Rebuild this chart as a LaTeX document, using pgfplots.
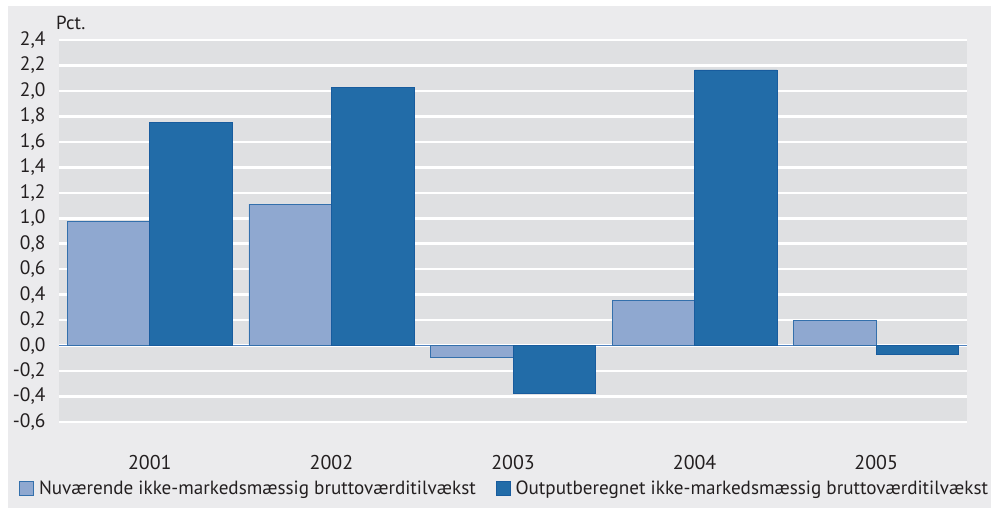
\documentclass[border=0pt]{standalone}
\usepackage{pgfplots}
\pgfplotsset{compat=1.18}
\usepackage{fontspec}
\setmainfont{PT Sans}
\definecolor{outerbg}{RGB}{235,235,237}
\definecolor{plotbg}{RGB}{223,224,226}
\definecolor{lightbar}{RGB}{143,168,208}
\definecolor{lightedge}{RGB}{52,112,172}
\definecolor{darkbar}{RGB}{34,108,168}
\definecolor{darkedge}{RGB}{24,92,158}
\definecolor{zeroline}{RGB}{80,130,190}
\definecolor{txt}{RGB}{35,31,32}
\begin{document}
\begin{tikzpicture}[x=1bp,y=1bp]
\useasboundingbox (0,0) rectangle (991,508);
\fill[white] (0,0) rectangle (991,508);
\fill[outerbg] (8,0) rectangle (991,502);
\node[anchor=base west, font=\fontsize{19}{22}\selectfont, text=txt, inner sep=0] at (56,478) {Pct.};
\begin{axis}[
  at={(59bp,86bp)}, anchor=south west,
  scale only axis, width=908bp, height=382bp,
  xmin=-0.5, xmax=4.5, ymin=-0.6, ymax=2.4,
  ytick={-0.6,-0.4,-0.2,0,0.2,0.4,0.6,0.8,1.0,1.2,1.4,1.6,1.8,2.0,2.2,2.4},
  xtick={0,1,2,3,4},
  xticklabels={2001,2002,2003,2004,2005},
  /pgf/number format/.cd, fixed, fixed zerofill, precision=1, use comma, assume math mode=true,
  /pgfplots/.cd,
  axis background/.style={fill=plotbg},
  axis line style={draw=none},
  major tick length=0pt,
  ymajorgrids,
  major grid style={white, line width=2.5bp},
  extra y ticks={0},
  extra y tick labels={},
  extra y tick style={grid=major, major grid style={zeroline, line width=0.8bp}},
  yticklabel style={font=\fontsize{19.5}{20}\selectfont, text=txt, anchor=east, xshift=-10bp},
  xticklabel style={font=\fontsize{20}{22}\selectfont, text=txt, anchor=north, yshift=-30bp},
  ybar, bar width=82.5bp,
  legend style={draw=none, fill=none, at={(-0.044,-0.173)}, anchor=west, inner sep=0pt,
    legend columns=2, font=\fontsize{19.2}{22}\selectfont, text=txt,
    /tikz/every odd column/.append style={column sep=3bp},
    /tikz/every even column/.append style={column sep=18bp},
    legend cell align=left},
  legend image code/.code={\draw[#1, line width=0.8bp] (0bp,-7bp) rectangle (14bp,7bp);},
]
\addplot[fill=lightbar, draw=lightedge, line width=0.8bp, bar shift=-41.25bp]
  coordinates {(0,0.976) (1,1.11) (2,-0.092) (3,0.358) (4,0.196)};
\addplot[fill=darkbar, draw=darkedge, line width=0.8bp, bar shift=41.25bp]
  coordinates {(0,1.754) (1,2.03) (2,-0.375) (3,2.165) (4,-0.068)};
\legend{Nuværende ikke-markedsmæssig bruttoværditilvækst, Outputberegnet ikke-markedsmæssig bruttoværditilvækst}
\end{axis}
\end{tikzpicture}
\end{document}
